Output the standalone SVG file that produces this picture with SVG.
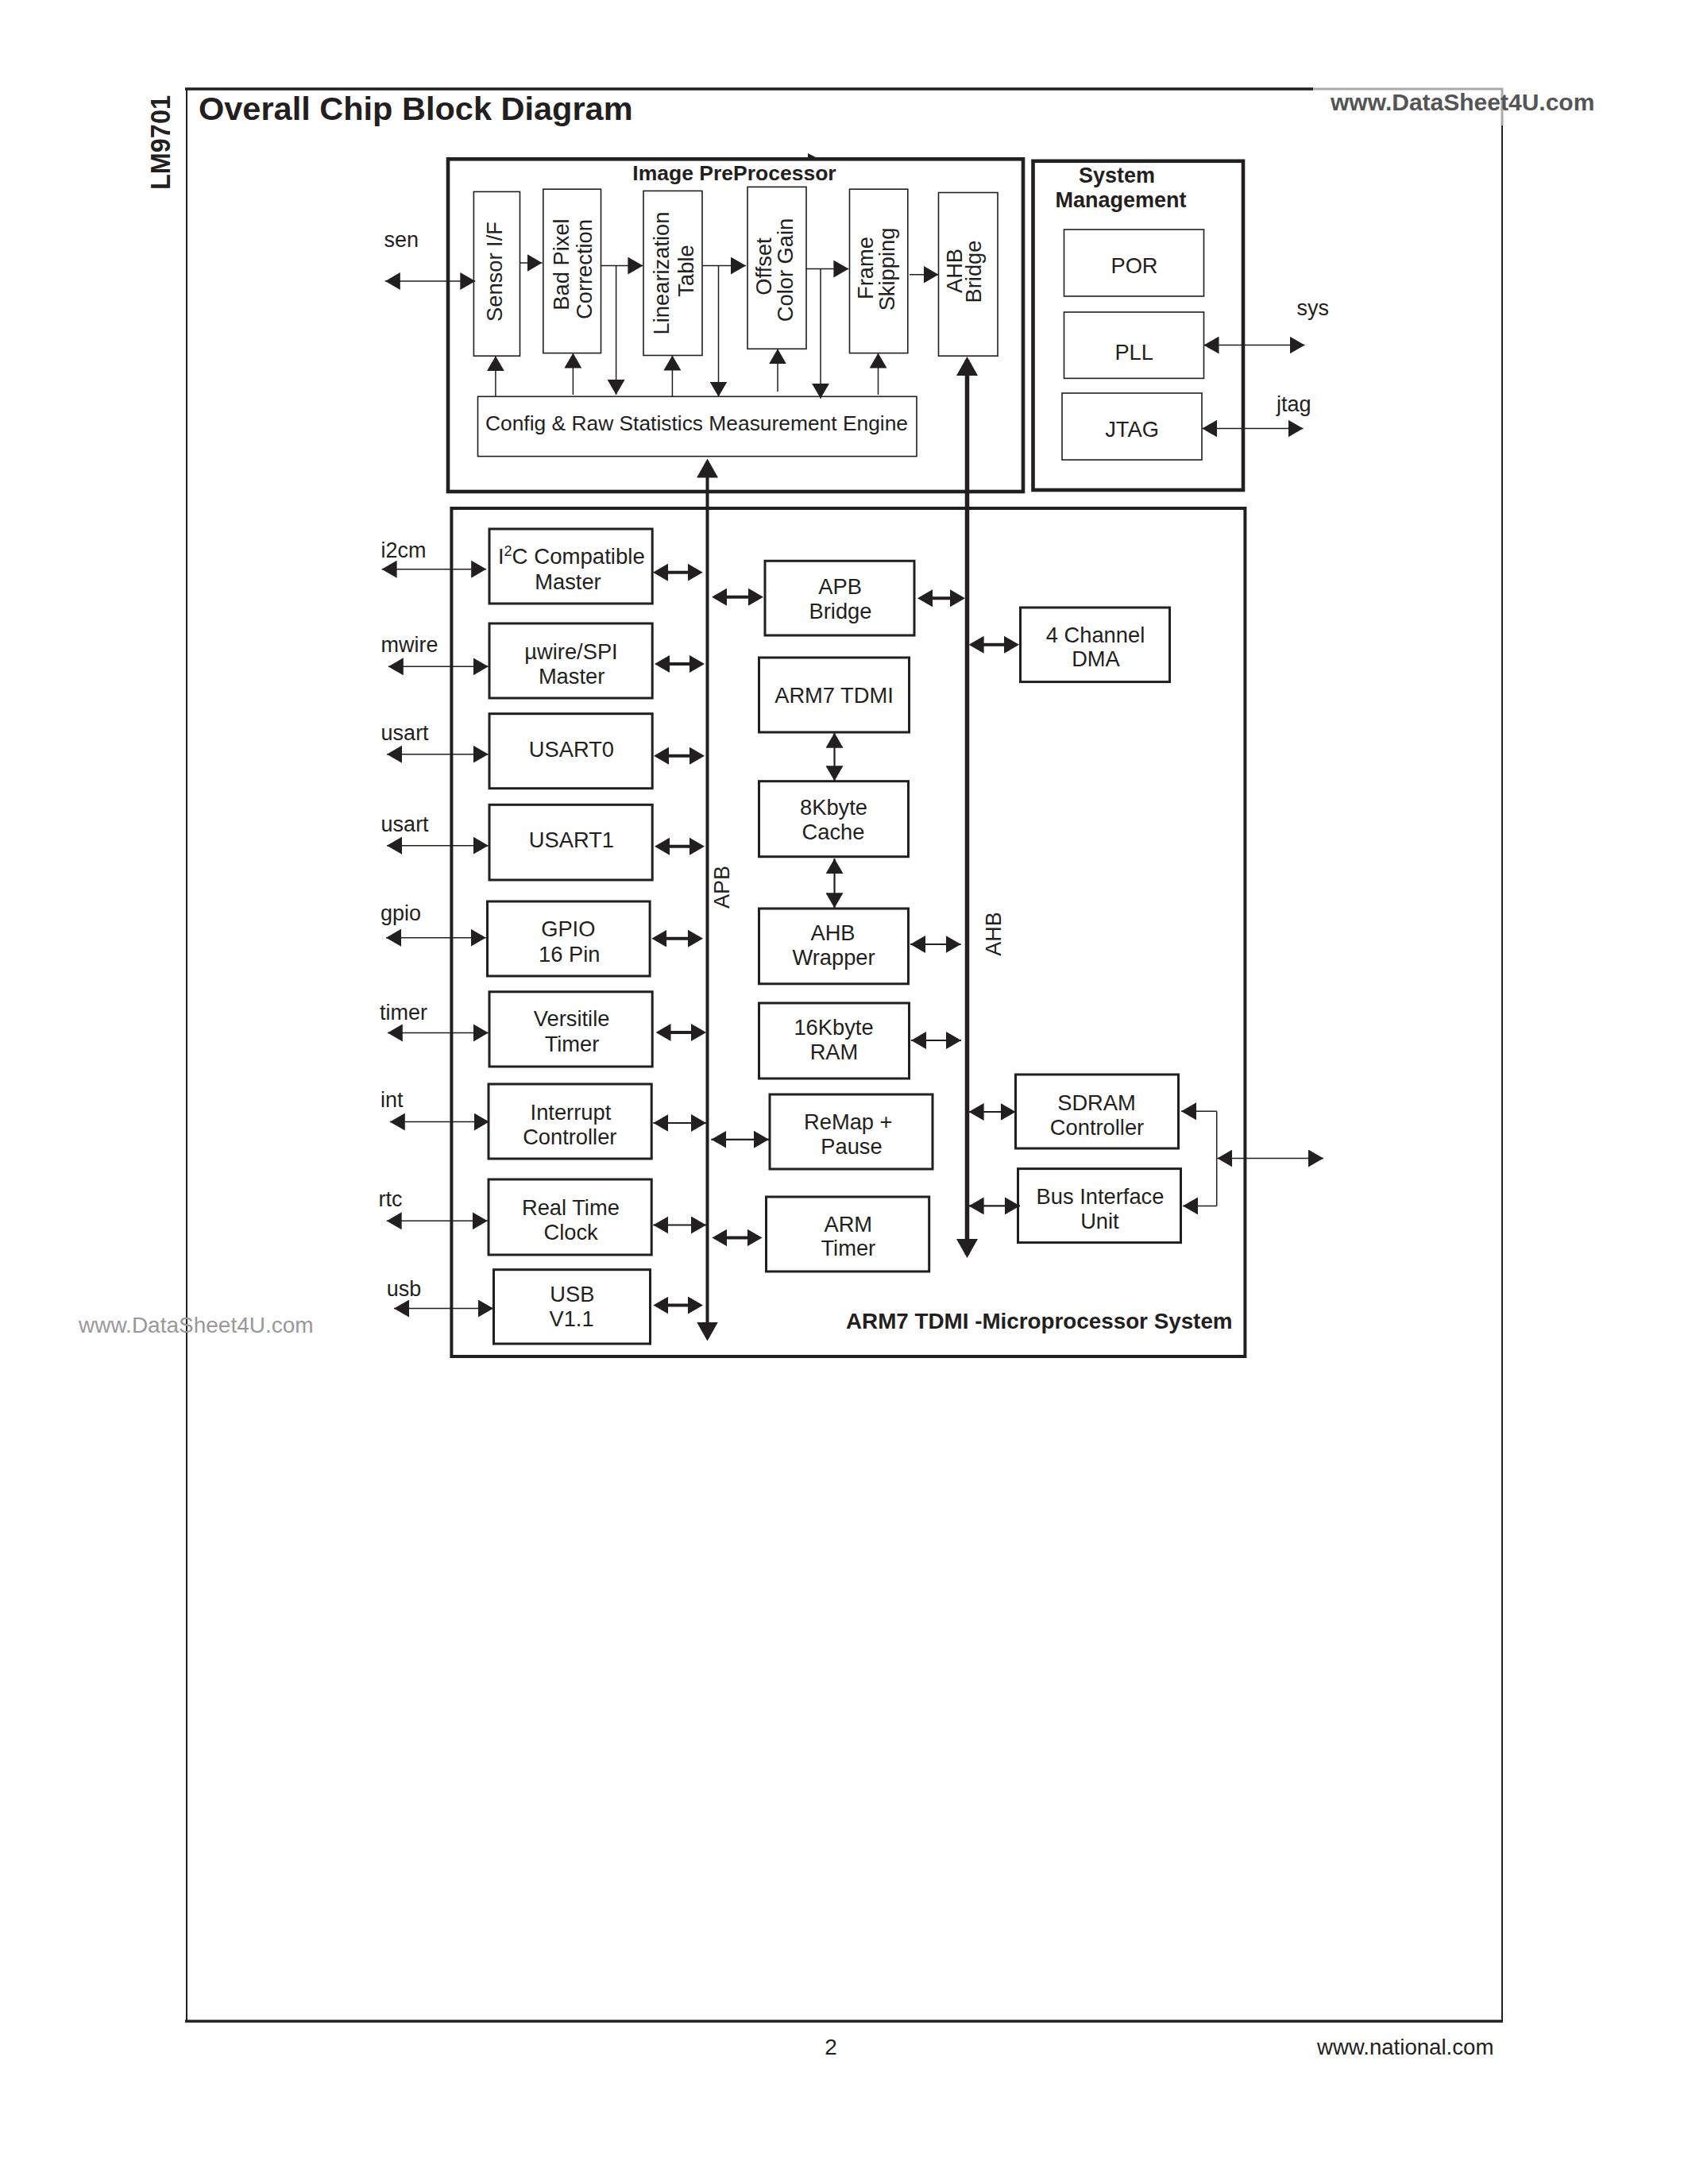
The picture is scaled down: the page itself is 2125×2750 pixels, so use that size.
<svg xmlns="http://www.w3.org/2000/svg" width="2125" height="2750" viewBox="0 0 2125 2750">
<style>
text{font-family:"Liberation Sans",Arial,sans-serif;fill:#231f20;font-size:27.3px}
.m{text-anchor:middle}
.b{font-weight:bold}
.l{font-size:27px}
.n{fill:none;stroke:#231f20;stroke-width:3}
.s{fill:none;stroke:#231f20;stroke-width:1.6}
.o{fill:none;stroke:#231f20;stroke-width:4.6}
.f{stroke:#231f20;fill:none}
.c{stroke:#231f20;fill:none;stroke-width:1.5}
.a{marker-start:url(#h);marker-end:url(#h)}
.e{marker-end:url(#h)}
.d{stroke-width:2.2}
.t{stroke:#231f20;fill:none;stroke-width:4;marker-start:url(#k);marker-end:url(#k)}
.bus{stroke:#231f20;fill:none;marker-start:url(#u);marker-end:url(#u)}
</style>
<defs>
<marker id="h" markerUnits="userSpaceOnUse" markerWidth="19" markerHeight="22" viewBox="0 0 19 22" refX="19" refY="11" orient="auto-start-reverse"><path d="M0 0L19 11L0 22z" fill="#231f20"/></marker>
<marker id="k" markerUnits="userSpaceOnUse" markerWidth="19" markerHeight="22" viewBox="0 0 19 22" refX="15" refY="11" orient="auto-start-reverse"><path d="M0 0L19 11L0 22z" fill="#231f20"/></marker>
<marker id="u" markerUnits="userSpaceOnUse" markerWidth="24" markerHeight="27" viewBox="0 0 24 27" refX="20" refY="13.5" orient="auto-start-reverse"><path d="M0 0L24 13.5L0 27z" fill="#231f20"/></marker>
</defs>
<rect width="2125" height="2750" fill="#fff"/>
<g id="page">
<path class="f" stroke-width="2" d="M235 112V2545M1891 158V2545"/>
<path class="f" stroke-width="3.5" d="M233 112H1653M233 2545H1892"/>
<path fill="none" stroke="#aaa" stroke-width="3" d="M1653 112H1891V158"/>
<text class="b" transform="translate(214 179.5) rotate(-90)" text-anchor="middle" style="font-size:35px" textLength="119" lengthAdjust="spacingAndGlyphs">LM9701</text>
<text class="b" x="250" y="151" style="font-size:41.500px">Overall Chip Block Diagram</text>
<text class="b" x="1675" y="139" style="font-size:30px;fill:#555">www.DataSheet4U.com</text>
<text x="99" y="1678" style="font-size:28px;fill:#999">www.DataSheet4U.com</text>
<text class="m" x="1046" y="2587" style="font-size:28px">2</text>
<text x="1658" y="2587" style="font-size:27.600px">www.national.com</text>
<path d="M1017 193L1027 198H1017z" fill="#231f20"/>
</g>
<g id="image-preprocessor">
<rect class="o" x="564" y="200.3" width="724" height="418.7"/>
<text class="b m" x="924.500" y="226.500" style="font-size:26.500px">Image PreProcessor</text>
</g>
<g id="system-management">
<rect class="o" x="1300.500" y="202.800" width="264.500" height="414.200"/>
<text class="b m" x="1406" y="230.400" style="font-size:27px">System</text>
<text class="b m" x="1411" y="261.400" style="font-size:27px">Management</text>
</g>
<g id="microprocessor-system">
<rect x="568.400" y="640" width="999" height="1068" fill="none" stroke="#231f20" stroke-width="4"/>
<text class="b" x="1065" y="1672.700" style="font-size:27.800px">ARM7 TDMI -Microprocessor System</text>
</g>
<g id="sensor-if"><rect class="s" x="596.400" y="241.400" width="58.100" height="206.800"/><text class="m" transform="translate(631.500 342) rotate(-90)">Sensor I/F</text></g>
<g id="bad-pixel"><rect class="s" x="683.800" y="238.200" width="72.700" height="206.400"/><text class="m" transform="translate(716 333) rotate(-90)">Bad Pixel</text><text class="m" transform="translate(745 339) rotate(-90)">Correction</text></g>
<g id="linearization"><rect class="s" x="810" y="240.400" width="74" height="207.100"/><text class="m" transform="translate(842 344) rotate(-90)">Linearization</text><text class="m" transform="translate(872.600 341) rotate(-90)">Table</text></g>
<g id="offset-color-gain"><rect class="s" x="941" y="235.400" width="74" height="203.900"/><text class="m" transform="translate(970.800 335.500) rotate(-90)">Offset</text><text class="m" transform="translate(998 340) rotate(-90)">Color Gain</text></g>
<g id="frame-skipping"><rect class="s" x="1069.500" y="238.200" width="73.300" height="206.400"/><text class="m" transform="translate(1099 337.600) rotate(-90)">Frame</text><text class="m" transform="translate(1126 339) rotate(-90)">Skipping</text></g>
<g id="ahb-bridge"><rect class="s" x="1181.500" y="242.500" width="74.500" height="205.700"/><text class="m" transform="translate(1210.600 341) rotate(-90)">AHB</text><text class="m" transform="translate(1235 342) rotate(-90)">Bridge</text></g>
<g id="config-engine"><rect class="s" x="601.500" y="499.300" width="552.500" height="75.300"/><text class="m" x="877" y="541.800" style="font-size:26.600px" textLength="532" lengthAdjust="spacingAndGlyphs">Config &amp; Raw Statistics Measurement Engine</text></g>
<g id="por"><rect class="s" x="1339.500" y="289" width="176" height="84"/><text class="m" x="1428" y="343.600">POR</text></g>
<g id="pll"><rect class="s" x="1339.500" y="393" width="176" height="83.400"/><text class="m" x="1427.700" y="452.500">PLL</text></g>
<g id="jtag"><rect class="s" x="1337" y="495" width="176" height="84"/><text class="m" x="1425" y="549.600">JTAG</text></g>
<g id="i2c-master"><rect class="n" x="616" y="666" width="205.200" height="94"/><text x="627" y="710">I<tspan dy="-10" style="font-size:18px">2</tspan><tspan dy="10" style="font-size:27.600px">C Compatible</tspan></text><text class="m" x="715" y="741.700">Master</text></g>
<g id="uwire-spi"><rect class="n" x="616" y="785" width="205.200" height="94"/><text class="m" x="719" y="830">µwire/SPI</text><text class="m" x="719.600" y="860.700">Master</text></g>
<g id="usart0"><rect class="n" x="616" y="898.700" width="205.200" height="94"/><text class="m" x="719.400" y="952.700">USART0</text></g>
<g id="usart1"><rect class="n" x="616" y="1013.300" width="205.200" height="94.700"/><text class="m" x="719.400" y="1067">USART1</text></g>
<g id="gpio"><rect class="n" x="613.500" y="1135" width="204.600" height="94"/><text class="m" x="715.300" y="1178.800">GPIO</text><text class="m" x="716.800" y="1210.600">16 Pin</text></g>
<g id="versitile-timer"><rect class="n" x="616" y="1248.800" width="205.200" height="94.200"/><text class="m" x="719.600" y="1291.700">Versitile</text><text class="m" x="720" y="1323.500">Timer</text></g>
<g id="interrupt-controller"><rect class="n" x="615" y="1365" width="205.200" height="94"/><text class="m" x="718.400" y="1410">Interrupt</text><text class="m" x="717.300" y="1440.800">Controller</text></g>
<g id="real-time-clock"><rect class="n" x="615" y="1485" width="205.200" height="95"/><text class="m" x="718.400" y="1529.600">Real Time</text><text class="m" x="718.600" y="1561">Clock</text></g>
<g id="usb"><rect class="n" x="621.500" y="1598.700" width="197" height="93.300"/><text class="m" x="720.400" y="1638.700">USB</text><text class="m" x="719.500" y="1670">V1.1</text></g>
<g id="apb-bridge"><rect class="n" x="963" y="706.300" width="188" height="93.700"/><text class="m" x="1057.600" y="748.300">APB</text><text class="m" x="1058" y="779">Bridge</text></g>
<g id="arm7-tdmi"><rect class="n" x="955.500" y="828" width="189" height="94"/><text class="m" x="1050" y="885">ARM7 TDMI</text></g>
<g id="cache"><rect class="n" x="955.500" y="983.700" width="188" height="95"/><text class="m" x="1049.500" y="1025.700">8Kbyte</text><text class="m" x="1049" y="1057">Cache</text></g>
<g id="ahb-wrapper"><rect class="n" x="955.500" y="1144" width="188" height="94.800"/><text class="m" x="1048.500" y="1184.400">AHB</text><text class="m" x="1049.500" y="1215">Wrapper</text></g>
<g id="ram"><rect class="n" x="955.500" y="1263" width="189" height="95"/><text class="m" x="1049.500" y="1302.800">16Kbyte</text><text class="m" x="1050" y="1334">RAM</text></g>
<g id="remap-pause"><rect class="n" x="969" y="1378" width="205" height="94"/><text class="m" x="1067.800" y="1422.300">ReMap +</text><text class="m" x="1072" y="1453">Pause</text></g>
<g id="arm-timer"><rect class="n" x="964.500" y="1507" width="205.200" height="94"/><text class="m" x="1067.800" y="1550.600">ARM</text><text class="m" x="1067.800" y="1581.300">Timer</text></g>
<g id="dma"><rect class="n" x="1284.500" y="765" width="188" height="93.600"/><text class="m" x="1379" y="809">4 Channel</text><text class="m" x="1379.500" y="839.400">DMA</text></g>
<g id="sdram-controller"><rect class="n" x="1278.500" y="1353" width="205" height="93"/><text class="m" x="1380.500" y="1398">SDRAM</text><text class="m" x="1381" y="1429">Controller</text></g>
<g id="bus-interface-unit"><rect class="n" x="1281.500" y="1471.600" width="205" height="93"/><text class="m" x="1385" y="1516">Bus Interface</text><text class="m" x="1384.400" y="1547">Unit</text></g>
<g id="signal-labels">
<text class="l" x="483.500" y="311.400">sen</text>
<text class="l" x="1632.600" y="397">sys</text>
<text class="l" x="1607" y="518">jtag</text>
<text class="l" x="479.600" y="701.700">i2cm</text>
<text class="l" x="479.600" y="821">mwire</text>
<text class="l" x="479.600" y="931.700">usart</text>
<text class="l" x="479.600" y="1046.700">usart</text>
<text class="l" x="479" y="1158.500">gpio</text>
<text class="l" x="478" y="1283.500">timer</text>
<text class="l" x="479" y="1393.800">int</text>
<text class="l" x="476.500" y="1518.500">rtc</text>
<text class="l" x="486.700" y="1632.400">usb</text>
<text class="l m" transform="translate(918 1117) rotate(-90)">APB</text>
<text class="l m" transform="translate(1259.500 1176) rotate(-90)">AHB</text>
</g>
<g id="connectors">
<path class="c a" d="M484.800 354H598.300"/>
<path class="c e" d="M654.500 331H682.500"/>
<path class="c e" d="M756.500 334.600H809.400"/>
<path class="c e" d="M775.600 334.600V497"/>
<path class="c e" d="M884.700 334.600H939"/>
<path class="c e" d="M904.500 334.600V499.600"/>
<path class="c e" d="M1014.800 338.600H1068.400"/>
<path class="c e" d="M1033 338.600V501.800"/>
<path class="c e" d="M1145 345.700H1181.500"/>
<path class="c e" d="M623.900 499V448.200"/>
<path class="c e" d="M721.400 497V444.600"/>
<path class="c e" d="M846.400 499V447.500"/>
<path class="c e" d="M979 493V439.300"/>
<path class="c e" d="M1105.500 497V444.600"/>
<path class="c a" d="M1515.500 434.600H1642.500"/>
<path class="c a" d="M1513.400 539.600H1640.500"/>
<path class="bus" stroke-width="4" d="M890.500 581.500V1684.600"/>
<path class="bus" stroke-width="5.500" d="M1217.500 453V1580"/>
<path class="c a" d="M480.600 716.700H612.200"/>
<path class="c a" d="M488.800 839.300H614.800"/>
<path class="c a" d="M487 949.700H614.800"/>
<path class="c a" d="M487 1064.700H614.800"/>
<path class="c a" d="M486 1180.700H611.700"/>
<path class="c a" d="M487.800 1300.500H614.800"/>
<path class="c a" d="M490.800 1412.600H615.800"/>
<path class="c a" d="M486.700 1537.300H613.800"/>
<path class="c a" d="M496 1647.600H621"/>
<path class="t" d="M826 720.700H880.700"/>
<path class="t" d="M828 836H883"/>
<path class="t" d="M827 951.700H883"/>
<path class="t" d="M828 1065.700H883"/>
<path class="t" d="M824.400 1181.800H881"/>
<path class="t" d="M829.500 1300H885"/>
<path class="c d a" d="M822.400 1414H889"/>
<path class="c d a" d="M822.400 1542.500H889"/>
<path class="t" d="M826.400 1643.500H881"/>
<path class="t" d="M900 751.700H957"/>
<path class="t" d="M1159 753.300H1211"/>
<path class="c d a" d="M895.400 1434.800H968"/>
<path class="t" d="M900.400 1558.400H955.500"/>
<path class="t" d="M1223.600 811.800H1279"/>
<path class="c d a" d="M1146 1189H1209.700"/>
<path class="c d a" d="M1147 1310H1210"/>
<path class="c d a" d="M1219.600 1400H1278.500"/>
<path class="c d a" d="M1219.600 1518.400H1284"/>
<path class="c d a" d="M1050.500 922.700V983.300"/>
<path class="c d a" d="M1050.500 1081V1143.300"/>
<path class="c e" d="M1531.700 1399.300H1487"/>
<path class="c e" d="M1531.700 1518.400H1489"/>
<path class="c" d="M1531.700 1399.300V1518.400"/>
<path class="c a" d="M1532.400 1458.500H1666"/>
</g>
</svg>
